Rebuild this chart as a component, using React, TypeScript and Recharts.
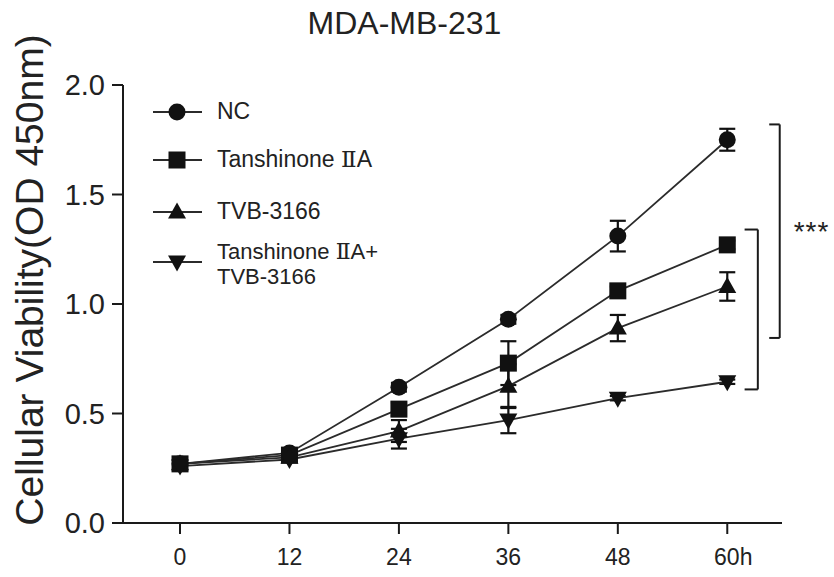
import React from 'react';
import { LineChart, Line, XAxis, YAxis, ErrorBar, Legend, ReferenceLine } from 'recharts';

const FONT = '"Liberation Sans", Arial, sans-serif';

// time points (h) and OD450 readings
const hours = [0, 12, 24, 36, 48, 60];
const ncMean = [0.27, 0.32, 0.62, 0.93, 1.31, 1.75];
const ncErr = [0.01, 0.01, 0.02, 0.02, 0.07, 0.05];
const tanMean = [0.27, 0.31, 0.52, 0.73, 1.06, 1.27];
const tanErr = [0.01, 0.01, 0.03, 0.1, 0.02, 0.02];
const tvbMean = [0.27, 0.3, 0.42, 0.625, 0.89, 1.08];
const tvbErr = [0.01, 0.01, 0.05, 0.1, 0.06, 0.065];
const comboMean = [0.26, 0.29, 0.385, 0.47, 0.57, 0.645];
const comboErr = [0.01, 0.01, 0.045, 0.06, 0.01, 0.01];

const yTicks = [0, 0.5, 1, 1.5, 2];
const seriesNames = ['NC', 'Tanshinone ⅡA', 'TVB-3166', 'Tanshinone ⅡA+', 'TVB-3166'];

// significance brackets (in data units): [armStart, spine, top, bottom]
const outerBracket = [64.6, 65.75, 1.82, 0.845];
const innerBracket = [61.9, 63.35, 1.34, 0.61];

const data = hours.map((h, i) => ({
  hour: h,
  nc: ncMean[i],
  ncErr: ncErr[i],
  tan: tanMean[i],
  tanErr: tanErr[i],
  tvb: tvbMean[i],
  tvbErr: tvbErr[i],
  combo: comboMean[i],
  comboErr: comboErr[i],
}));

type Shape = 'circle' | 'square' | 'up' | 'down';

function Marker({ shape, cx, cy }: { shape: Shape; cx: number; cy: number }) {
  const fill = '#111';
  if (shape === 'circle') return <circle cx={cx} cy={cy} r={8.5} fill={fill} />;
  if (shape === 'square') return <rect x={cx - 8.5} y={cy - 8.5} width={17} height={17} fill={fill} />;
  if (shape === 'up')
    return <polygon points={`${cx},${cy - 9.5} ${cx + 9},${cy + 6.5} ${cx - 9},${cy + 6.5}`} fill={fill} />;
  return <polygon points={`${cx - 9},${cy - 6.5} ${cx + 9},${cy - 6.5} ${cx},${cy + 9.5}`} fill={fill} />;
}

const dotOf = (shape: Shape) => (props: any) =>
  <Marker key={`${shape}-${props.index}`} shape={shape} cx={props.cx} cy={props.cy} />;

function XTick(props: any) {
  const { x, y, payload } = props;
  const last = payload.value === 60;
  return (
    <text x={x} y={y} dy="0.71em" dx={last ? 6 : 0} textAnchor="middle" fontSize={23} fill="#222" fontFamily={FONT}>
      {last ? `${payload.value}h` : payload.value}
    </text>
  );
}

function YTitle() {
  return (
    <text
      x={43}
      y={280}
      transform="rotate(-90, 43, 280)"
      textAnchor="middle"
      fontSize={39}
      fill="#222"
      fontFamily={FONT}
    >
      Cellular Viability(OD 450nm)
    </text>
  );
}

// roman numeral drawn in a serif face, as in the original figure
function Label({ text, x, y, size }: { text: string; x: number; y: number; size: number }) {
  const parts = text.split('Ⅱ');
  return (
    <text x={x} y={y} fontSize={size} fill="#222" fontFamily={FONT}>
      {parts.map((p, i) => (
        <React.Fragment key={i}>
          {i > 0 && (
            <tspan fontFamily='"DejaVu Serif", "Liberation Serif", serif' fontWeight={300}>
              Ⅱ
            </tspan>
          )}
          <tspan>{p}</tspan>
        </React.Fragment>
      ))}
    </text>
  );
}

function LegendBox() {
  const rows: { shape: Shape; y: number; lines: string[] }[] = [
    { shape: 'circle', y: 32, lines: [seriesNames[0]] },
    { shape: 'square', y: 80, lines: [seriesNames[1]] },
    { shape: 'up', y: 132, lines: [seriesNames[2]] },
    { shape: 'down', y: 182, lines: [seriesNames[3], seriesNames[4]] },
  ];
  return (
    <svg width={270} height={220} style={{ display: 'block' }}>
      {rows.map((r) => (
        <g key={r.shape}>
          <line x1={13} x2={62} y1={r.y} y2={r.y} stroke="#2b2b2b" strokeWidth={1.8} />
          <Marker shape={r.shape} cx={37} cy={r.y} />
          {r.lines.length === 1 ? (
            <Label text={r.lines[0]} x={77} y={r.y + 7} size={23} />
          ) : (
            r.lines.map((t, i) => <Label key={i} text={t} x={77} y={r.y - 3 + i * 25} size={22} />)
          )}
        </g>
      ))}
    </svg>
  );
}

export default function App() {
  const axisColor = '#1a1a1a';
  const lineColor = '#2b2b2b';
  const bracketLines = (b: number[], label?: boolean) => [
    <ReferenceLine key="t" segment={[{ x: b[0], y: b[2] }, { x: b[1], y: b[2] }]} stroke={axisColor} strokeWidth={2} ifOverflow="visible" />,
    <ReferenceLine
      key="s"
      segment={[{ x: b[1], y: b[2] }, { x: b[1], y: b[3] }]}
      stroke={axisColor}
      strokeWidth={2}
      ifOverflow="visible"
      label={label ? { value: '***', position: 'right', offset: 14, fontSize: 28, fill: '#222', fontFamily: FONT, letterSpacing: 1 } : undefined}
    />,
    <ReferenceLine key="b" segment={[{ x: b[0], y: b[3] }, { x: b[1], y: b[3] }]} stroke={axisColor} strokeWidth={2} ifOverflow="visible" />,
  ];

  return (
    <div style={{ position: 'absolute', left: 0, top: 0, width: 834, height: 577, background: '#fff' }}>
      <div
        style={{
          position: 'absolute',
          left: 0,
          width: 809,
          top: 7,
          textAlign: 'center',
          fontFamily: FONT,
          fontSize: 32,
          lineHeight: '32px',
          color: '#222',
        }}
      >
        MDA-MB-231
      </div>
      <LineChart width={834} height={577} data={data} margin={{ top: 85, right: 52, bottom: 14, left: 63 }}>
        <XAxis
          type="number"
          dataKey="hour"
          domain={[-6.25, 66]}
          ticks={hours}
          interval={0}
          allowDataOverflow
          tick={<XTick />}
          tickSize={11}
          tickMargin={15}
          height={40}
          stroke={axisColor}
          strokeWidth={2}
        />
        <YAxis
          type="number"
          domain={[0, 2]}
          ticks={yTicks}
          interval={0}
          tickFormatter={(v: number) => v.toFixed(1)}
          tick={{ fontSize: 29, fill: '#222', fontFamily: FONT }}
          tickSize={11}
          tickMargin={7}
          width={60}
          stroke={axisColor}
          strokeWidth={2}
          label={<YTitle />}
        />
        <Legend
          layout="vertical"
          align="center"
          verticalAlign="middle"
          content={() => <LegendBox />}
          wrapperStyle={{ position: 'absolute', left: 140, top: 80, width: 270, height: 220 }}
        />
        {bracketLines(outerBracket, true)}
        {bracketLines(innerBracket)}
        <Line type="linear" dataKey="nc" stroke={lineColor} strokeWidth={1.8} dot={dotOf('circle')} activeDot={false} isAnimationActive={false}>
          <ErrorBar dataKey="ncErr" direction="y" width={8} stroke="#111" strokeWidth={2.2} />
        </Line>
        <Line type="linear" dataKey="tan" stroke={lineColor} strokeWidth={1.8} dot={dotOf('square')} activeDot={false} isAnimationActive={false}>
          <ErrorBar dataKey="tanErr" direction="y" width={8} stroke="#111" strokeWidth={2.2} />
        </Line>
        <Line type="linear" dataKey="tvb" stroke={lineColor} strokeWidth={1.8} dot={dotOf('up')} activeDot={false} isAnimationActive={false}>
          <ErrorBar dataKey="tvbErr" direction="y" width={8} stroke="#111" strokeWidth={2.2} />
        </Line>
        <Line type="linear" dataKey="combo" stroke={lineColor} strokeWidth={1.8} dot={dotOf('down')} activeDot={false} isAnimationActive={false}>
          <ErrorBar dataKey="comboErr" direction="y" width={8} stroke="#111" strokeWidth={2.2} />
        </Line>
      </LineChart>
    </div>
  );
}
